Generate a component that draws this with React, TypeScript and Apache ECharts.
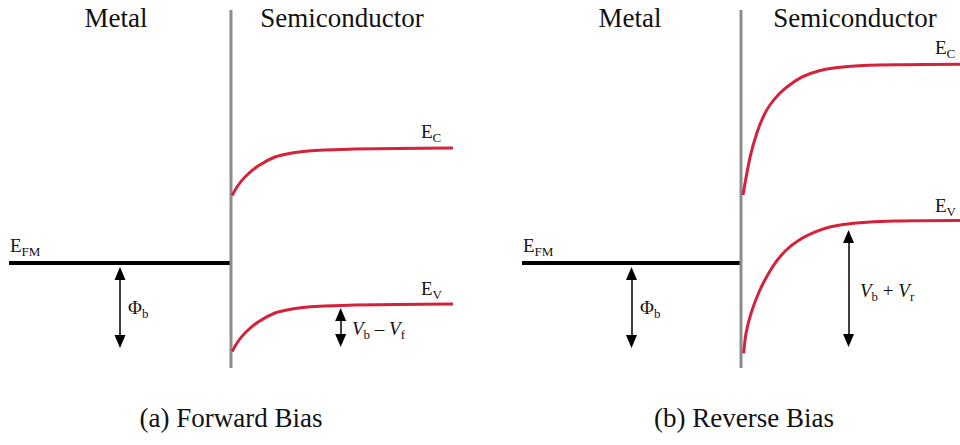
import React, { useEffect, useRef } from "react";
import * as echarts from "echarts";

// ---------- data ----------
// x: position (metal -1..0, semiconductor 0..1); y: energy (arb. units), E_FM = 0
const panelTitles = ["(a) Forward Bias", "(b) Reverse Bias"];
const regionLabels = ["Metal", "Semiconductor"];

const metalFermi = [[-1, 0], [0, 0]];
const interfaceLine = [[0, 2.53], [0, -1.05]];

const fwdEC = [[0.005, 0.675], [0.03, 0.77], [0.063, 0.86], [0.122, 0.97], [0.198, 1.06], [0.275, 1.1], [0.347, 1.12], [0.423, 1.13], [0.559, 1.14], [0.75, 1.145], [1.0, 1.15]];
const fwdEV = [[0.005, -0.885], [0.03, -0.79], [0.063, -0.7], [0.122, -0.59], [0.198, -0.5], [0.275, -0.46], [0.347, -0.44], [0.423, -0.43], [0.559, -0.42], [0.75, -0.415], [1.0, -0.41]];
const revEC = [[0.009, 0.68], [0.042, 1.063], [0.072, 1.297], [0.102, 1.463], [0.132, 1.58], [0.177, 1.697], [0.222, 1.78], [0.282, 1.863], [0.357, 1.923], [0.432, 1.953], [0.582, 1.977], [0.733, 1.983], [1.0, 1.987]];
const revEV = [[0.012, -0.903], [0.023, -0.703], [0.046, -0.503], [0.08, -0.303], [0.109, -0.17], [0.155, -0.003], [0.207, 0.13], [0.266, 0.23], [0.342, 0.313], [0.41, 0.363], [0.514, 0.397], [0.703, 0.42], [1.0, 0.425]];

// arrow lines: x, top end, bottom end (arrow heads are centred on these ends)
const phiBArrow = [-0.5, -0.105, -0.785];
const fwdVArrow = [0.494, -0.515, -0.775];
const revVArrow = [0.491, 0.265, -0.775];

// ---------- styling ----------
const SERIF = '"Liberation Serif", "Times New Roman", serif';
const RED = "#d5223b";
const GRAY = "#8c8c8c";

function plainText(x: number, y: number, text: string, size: number, align = "center") {
  return {
    type: "text",
    x,
    y,
    silent: true,
    style: { text, fontSize: size, fontFamily: SERIF, fill: "#111", textAlign: align, textVerticalAlign: "middle" },
  };
}

function richText(x: number, y: number, text: string) {
  return {
    type: "text",
    x,
    y,
    silent: true,
    style: {
      text,
      fontFamily: SERIF,
      fill: "#111",
      textAlign: "left",
      textVerticalAlign: "middle",
      rich: {
        m: { fontSize: 19, fontFamily: SERIF, fill: "#111", lineHeight: 22, verticalAlign: "top" },
        v: { fontSize: 19, fontFamily: SERIF, fontStyle: "italic", fill: "#111", lineHeight: 22, verticalAlign: "top" },
        s: { fontSize: 13, fontFamily: SERIF, fill: "#111", lineHeight: 13, verticalAlign: "bottom" },
      },
    },
  };
}

function arrowMark(a: number[]) {
  return [{ coord: [a[0], a[1]] }, { coord: [a[0], a[2]] }];
}

function panelSeries(gi: number, ec: number[][], ev: number[][], vArrow: number[]) {
  const base = { xAxisIndex: gi, yAxisIndex: gi, type: "line", showSymbol: false, symbol: "none", silent: true };
  return [
    {
      ...base,
      data: metalFermi,
      lineStyle: { color: "#000", width: 4 },
      markLine: {
        silent: true,
        symbol: ["triangle", "triangle"],
        symbolSize: [11, 13],
        label: { show: false },
        lineStyle: { color: "#000", width: 1.5, type: "solid" },
        data: [arrowMark(phiBArrow), arrowMark(vArrow)],
      },
    },
    { ...base, data: interfaceLine, lineStyle: { color: GRAY, width: 3 } },
    { ...base, data: ec, smooth: 0.3, lineStyle: { color: RED, width: 3 } },
    { ...base, data: ev, smooth: 0.3, lineStyle: { color: RED, width: 3 } },
  ];
}

export default function App() {
  const ref = useRef<HTMLDivElement>(null);
  useEffect(() => {
    if (!ref.current) return;
    const chart = echarts.init(ref.current, null, { renderer: "svg" });
    const axisX = (gi: number) => ({ type: "value", gridIndex: gi, min: -1, max: 1, show: false });
    const axisY = (gi: number) => ({ type: "value", gridIndex: gi, min: -1.82, max: 2.63, show: false });
    chart.setOption({
      animation: false,
      backgroundColor: "#fff",
      grid: [
        { left: 9, top: 0, width: 444, height: 445 },
        { left: 522, top: 0, width: 444, height: 445 },
      ],
      xAxis: [axisX(0), axisX(1)],
      yAxis: [axisY(0), axisY(1)],
      series: [...panelSeries(0, fwdEC, fwdEV, fwdVArrow), ...panelSeries(1, revEC, revEV, revVArrow)],
      graphic: [
        plainText(116, 18, regionLabels[0], 27),
        plainText(342, 18, regionLabels[1], 27),
        plainText(630, 18, regionLabels[0], 27),
        plainText(855, 18, regionLabels[1], 27),
        plainText(231, 418, panelTitles[0], 27),
        plainText(744, 418, panelTitles[1], 27),
        richText(10, 247, "{m|E}{s|FM}"),
        richText(523, 247, "{m|E}{s|FM}"),
        richText(128, 309, "{m|Φ}{s|b}"),
        richText(640, 309, "{m|Φ}{s|b}"),
        richText(421, 133, "{m|E}{s|C}"),
        richText(421, 290, "{m|E}{s|V}"),
        richText(935, 49, "{m|E}{s|C}"),
        richText(935, 207, "{m|E}{s|V}"),
        richText(352, 330, "{v|V}{s|b}{m| – }{v|V}{s|f}"),
        richText(860, 292, "{v|V}{s|b}{m| + }{v|V}{s|r}"),
      ],
    });
    return () => chart.dispose();
  }, []);
  return <div ref={ref} style={{ position: "fixed", left: 0, top: 0, width: 960, height: 445 }} />;
}
